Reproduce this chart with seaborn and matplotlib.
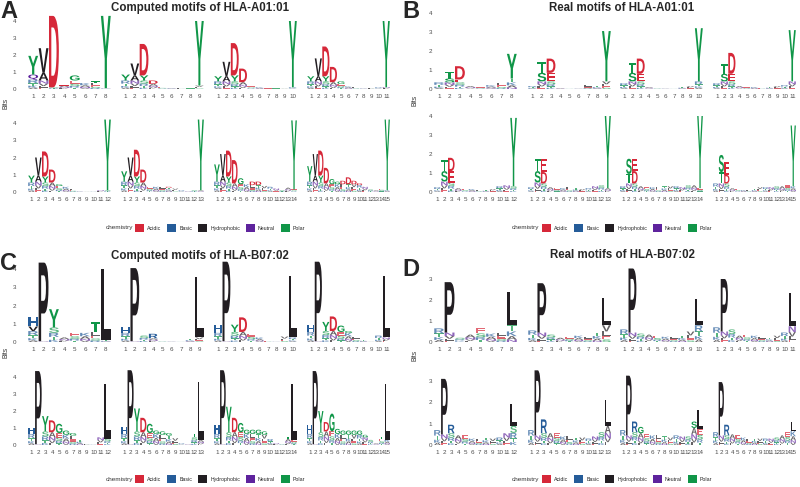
import matplotlib
matplotlib.use("Agg")
import matplotlib.pyplot as plt
import seaborn as sns
from matplotlib.font_manager import FontProperties
from matplotlib.textpath import TextPath
from matplotlib.patches import PathPatch, Patch
from matplotlib.transforms import Affine2D

sns.set_theme(style="white")
plt.rcParams["font.family"] = ["Liberation Sans", "DejaVu Sans"]

# --- data: one string per position, "background_bits LETTERbits ..." stacked bottom -> top ---
A_TOP = [
    ["0.55 Q.3 Y1.1", "0.5 A.45 V1.45", "0.1 D4.2", "0.2 E.05", "0.5 G.3", "0.35", "0.35 T.1", "0.05 Y4.25"],
    ["0.5 Y.35", "0.5 A.3 V.7", "0.5 Y.3 D1.85", "0.3 D.2", "0.1", "0.05", "0.03", "0.03", "0.2 Y3.8"],
    ["0.45 Y.3", "0.45 A.3 V.85", "0.45 Y.35 D1.9", "0.4 D.8", "0.15", "0.1", "0.05", "0.03", "0.03", "0.1 Y3.9"],
    ["0.45 Y.3", "0.45 A.3 V1.05", "0.45 Y.3 D1.75", "0.4 D.9", "0.3 G.15", "0.15", "0.1", "0.05", "0.05",
     "0.1", "0.1 Y3.9"],
]
A_BOT = [
    ["0.55 Y.4", "0.6 A.35 V1.05", "0.55 Y.35 D1.45", "0.55 D.75", "0.35 G.1", "0.3", "0.2", "0.05", "0.02",
     "0.02", "0.1", "0.1 Y4.1"],
    ["0.6 Y.6", "0.6 A.35 V1.05", "0.55 Y.35 D1.55", "0.55 D.75", "0.3", "0.3", "0.3", "0.25 D.05", "0.2",
     "0.1", "0.05", "0.1", "0.1 Y4.1"],
    ["0.6 Y1.0", "0.6 A.35 V1.25", "0.55 Y.35 D1.5", "0.5 D1.35", "0.45 G.35", "0.45", "0.4 D.2", "0.4 D.2",
     "0.35", "0.3", "0.2", "0.1", "0.25", "0.15 Y4.0"],
    ["0.6 Y.9", "0.6 A.35 V1.25", "0.55 Y.4 D1.45", "0.5 D.9", "0.45 G.3", "0.45 G.15", "0.45 D.2", "0.45 D.4",
     "0.45 D.2", "0.4 D.1", "0.3", "0.15", "0.1", "0.2", "0.1 Y4.1"],
]
B_TOP = [
    ["0.35", "0.35 S.2 T.35", "0.35 E.15 D.7", "0.15", "0.1", "0.2", "0.3", "0.55 Y1.3"],
    ["0.15", "0.4 S.45 T.55", "0.4 E.45 D.75", "0.05", "0.02", "0.02", "0.2", "0.15", "0.4 Y2.65"],
    ["0.3", "0.4 S.45 T.5", "0.4 E.4 D.8", "0.1", "0.05", "0.02", "0.02", "0.1", "0.15", "0.4 Y2.8"],
    ["0.3", "0.4 S.4 T.5", "0.4 E.4 D1.1", "0.15", "0.1", "0.1", "0.05", "0.1", "0.15", "0.2", "0.4 Y2.7"],
]
B_BOT = [
    ["0.25", "0.55 S.55 T.6", "0.5 E.6 D.7", "0.2", "0.15", "0.15", "0.1", "0.1", "0.15", "0.3", "0.35",
     "0.3 Y3.6"],
    ["0.25", "0.5 S.6 T.65", "0.45 D.6 E.7", "0.25", "0.2", "0.2", "0.25", "0.2", "0.15", "0.2", "0.3", "0.35",
     "0.2 Y3.8"],
    ["0.3", "0.45 T.5 S.8", "0.45 D.65 E.65", "0.3", "0.25", "0.25", "0.25", "0.3", "0.3", "0.3", "0.25", "0.35",
     "0.35", "0.2 Y3.8"],
    ["0.45", "0.45 T.6 S.9", "0.45 D.45 E.7", "0.2", "0.15", "0.1", "0.1", "0.15", "0.25", "0.25", "0.25", "0.3",
     "0.3", "0.35", "0.3 Y3.2"],
]
C_TOP = [
    ["0.6 V.25 H.5", "0.05 P4.3", "0.8 Y1.0", "0.25", "0.5", "0.5", "0.55 T.55", "0.1 L3.9"],
    ["0.5 H.3", "0.05 P4.0", "0.35", "0.2 R.25", "0.05", "0.02", "0.02", "0.15", "0.25 L3.3"],
    ["0.5 H.45", "0.05 P4.35", "0.55 Y.4", "0.55 D.8", "0.45", "0.25", "0.05", "0.02", "0.3", "0.25 L3.35"],
    ["0.55 H.4", "0.05 P4.35", "0.6 Y.5", "0.6 D.8", "0.55 G.35", "0.5 G.1", "0.3", "0.1", "0.02", "0.35",
     "0.25 L3.35"],
]
C_BOT = [
    ["0.65 H.35", "0.05 P4.3", "0.8 Y.9", "0.75 D.7", "0.7 G.55", "0.6 G.25", "0.55 G.15", "0.3", "0.05",
     "0.02", "0.45", "0.35 L3.25"],
    ["0.65 H.4", "0.05 P4.35", "0.8 Y1.35", "0.75 D.85", "0.7 G.55", "0.65 G.2", "0.6 G.2", "0.55 G.15", "0.4",
     "0.1", "0.05", "0.45 T.2", "0.3 L3.4"],
    ["0.65 H.55", "0.05 P4.35", "0.75 Y1.5", "0.75 D.85", "0.75 G.55", "0.65 G.25", "0.65 G.25", "0.65 G.25",
     "0.6 G.2", "0.35", "0.1", "0.05", "0.35 T.15", "0.3 L3.3"],
    ["0.65 H.5", "0.05 P4.3", "0.75 Y1.25", "0.8 D.55", "0.8 G1.05", "0.65 G.3", "0.6 G.25", "0.6 G.25",
     "0.6 G.25", "0.6 G.25", "0.45 G.15", "0.3", "0.1", "0.35 T.15", "0.3 L3.3"],
]
D_TOP = [
    ["0.65", "0.45 P2.4", "0.2", "0.35", "0.65", "0.4", "0.45", "0.8 L1.6"],
    ["0.55", "0.45 P2.35", "0.35", "0.2", "0.25", "0.3", "0.25", "0.45", "0.8 L1.3"],
    ["0.6", "0.45 P3.05", "0.4", "0.35", "0.3", "0.25", "0.25", "0.3", "0.5", "0.8 L1.25"],
    ["0.7", "0.5 P2.5", "0.6", "0.3", "0.35", "0.3", "0.25", "0.2", "0.3", "0.45", "0.75 L1.6"],
]
D_BOT = [
    ["0.7", "0.5 P2.6", "0.55 R.4", "0.45", "0.45", "0.3", "0.3", "0.35", "0.3", "0.35", "0.55", "0.9 L1.0"],
    ["0.7", "0.45 P3.05", "0.55 R.65", "0.55", "0.55", "0.4", "0.4", "0.35", "0.35", "0.3", "0.4", "0.6",
     "0.9 L1.2"],
    ["0.7", "0.45 P2.8", "0.6 R.5", "0.55 G.3", "0.5", "0.45", "0.45", "0.4", "0.35", "0.45", "0.4", "0.4",
     "0.8 S.3", "0.75 L.9"],
    ["0.6", "0.45 P2.5", "0.45 R.5", "0.5", "0.45", "0.35", "0.3", "0.3", "0.3", "0.3", "0.3", "0.35", "0.45",
     "0.6", "0.65 L.45"],
]

CHEM_GROUPS = ["Acidic", "Basic", "Hydrophobic", "Neutral", "Polar"]
CHEM_COLORS = ["#D62839", "#255C99", "#221E22", "#5E239D", "#109648"]
GROUP_LETTERS = ["DE", "KRH", "PAWFLIMV", "NQ", "GSTYC"]
LETTER_COLOR = {ch: col for letters, col in zip(GROUP_LETTERS, CHEM_COLORS) for ch in letters}

# filler letters used for the low-information part of each stack
BG_STACK = "SAEKLTVRN"
BG_WEIGHTS = [0.15, 0.2, 0.28, 0.37]
TICK_GREY = "#4d4d4d"

W, H = 800, 487
fig = plt.figure(figsize=(W / 100, H / 100), dpi=100)

LOGO_FONT = FontProperties(family="Liberation Sans", weight="bold")
_paths = {}


def letter_path(ch):
    if ch not in _paths:
        p = TextPath((0, 0), ch, size=1, prop=LOGO_FONT)
        _paths[ch] = (p, p.get_extents())
    return _paths[ch]


def draw_letter(ax, ch, x, y0, h, width=0.95, alpha=1.0):
    if h <= 0:
        return
    p, ext = letter_path(ch)
    tr = (Affine2D().translate(-ext.x0, -ext.y0)
          .scale(width / ext.width, h / ext.height)
          .translate(x - width / 2, y0))
    ax.add_patch(PathPatch(tr.transform_path(p), fc=LETTER_COLOR[ch], ec="none", lw=0,
                           alpha=alpha, clip_on=False))


def parse(col):
    toks = col.split()
    return float(toks[0]), [(t[0], float(t[1:])) for t in toks[1:]]


def px_axes(left, top, width, height):
    return fig.add_axes([left / W, 1 - (top + height) / H, width / W, height / H])


def draw_logo(ax, cols, ymax, show_y, ypad):
    n = len(cols)
    for i, col in enumerate(cols, start=1):
        bg, letters = parse(col)
        y = 0.0
        for k, w in enumerate(BG_WEIGHTS):
            ch = BG_STACK[(i + 2 * k) % len(BG_STACK)]
            draw_letter(ax, ch, i, y, bg * w, alpha=0.7)
            y += bg * w
        for ch, h in letters:
            draw_letter(ax, ch, i, y, h)
            y += h
    ax.set_xlim(0.5, n + 0.5)
    ax.set_ylim(0, ymax)
    ax.set_xticks(range(1, n + 1))
    ax.set_xticklabels([str(i) for i in range(1, n + 1)])
    ax.set_yticks(range(0, ymax + 1))
    if not show_y:
        ax.set_yticklabels([])
    ax.tick_params(axis="x", length=0, pad=3.5, labelsize=4.5, labelcolor=TICK_GREY)
    ax.tick_params(axis="y", length=0, pad=ypad, labelsize=4.5, labelcolor=TICK_GREY)
    ax.set_facecolor("none")
    ax.grid(False)
    sns.despine(ax=ax, left=True, bottom=True)


# layout in pixels: logo lefts, (row top, row height), ymax
PANELS = [
    dict(tag="A", title="Computed motifs of HLA-A01:01", rows=[A_TOP, A_BOT], lefts=[28, 121, 214, 307],
         rowbox=[(21, 68), (123, 69)], ymax=4, ypad=8.5, tagxy=(0, 0), titlexy=(200, 8), bits=(6, 103),
         legy=228, legx=135),
    dict(tag="B", title="Real motifs of HLA-A01:01", rows=[B_TOP, B_BOT], lefts=[434, 528, 620, 713],
         rowbox=[(13, 76), (116, 76)], ymax=4, ypad=1.5, tagxy=(402, 0), titlexy=(622, 8), bits=(415, 100),
         legy=228, legx=542),
    dict(tag="C", title="Computed motifs of HLA-B07:02", rows=[C_TOP, C_BOT], lefts=[28, 121, 214, 307],
         rowbox=[(269, 73), (377, 68)], ymax=4, ypad=8.5, tagxy=(0, 252), titlexy=(200, 256), bits=(6, 352),
         legy=479, legx=135),
    dict(tag="D", title="Real motifs of HLA-B07:02", rows=[D_TOP, D_BOT], lefts=[434, 528, 620, 713],
         rowbox=[(279, 63), (381, 64)], ymax=3, ypad=1.5, tagxy=(402, 258), titlexy=(622, 255),
         bits=(415, 355), legy=479, legx=542),
]

handles = [Patch(facecolor=c, edgecolor="none") for c in CHEM_COLORS]

for pn in PANELS:
    for (top, height), logos in zip(pn["rowbox"], pn["rows"]):
        for j, (left, cols) in enumerate(zip(pn["lefts"], logos)):
            ax = px_axes(left, top, 83, height)
            draw_logo(ax, cols, pn["ymax"], j == 0, pn["ypad"])

    tx, ty = pn["tagxy"]
    fig.text(tx / W, 1 - ty / H, pn["tag"], fontsize=17, fontweight="bold", ha="left", va="top")
    cx, cy = pn["titlexy"]
    fig.text(cx / W, 1 - cy / H, pn["title"], fontsize=8.3, fontweight="bold", ha="center", va="center")
    bx, by = pn["bits"]
    fig.text(bx / W, 1 - by / H, "Bits", fontsize=4.8, rotation=90, ha="center", va="center", color="#333333")

    fig.text((pn["legx"] - 16) / W, 1 - pn["legy"] / H, "chemistry", fontsize=4.6, ha="center", va="center",
             color="#333333")
    fig.legend(handles, CHEM_GROUPS, loc="center left", bbox_to_anchor=(pn["legx"] / W, 1 - pn["legy"] / H),
               ncol=5, frameon=False, fontsize=3.8, handlelength=1.7, handleheight=1.7, handletextpad=0.6,
               columnspacing=1.1, borderpad=0, borderaxespad=0)

fig.savefig("out.png", dpi=100)
